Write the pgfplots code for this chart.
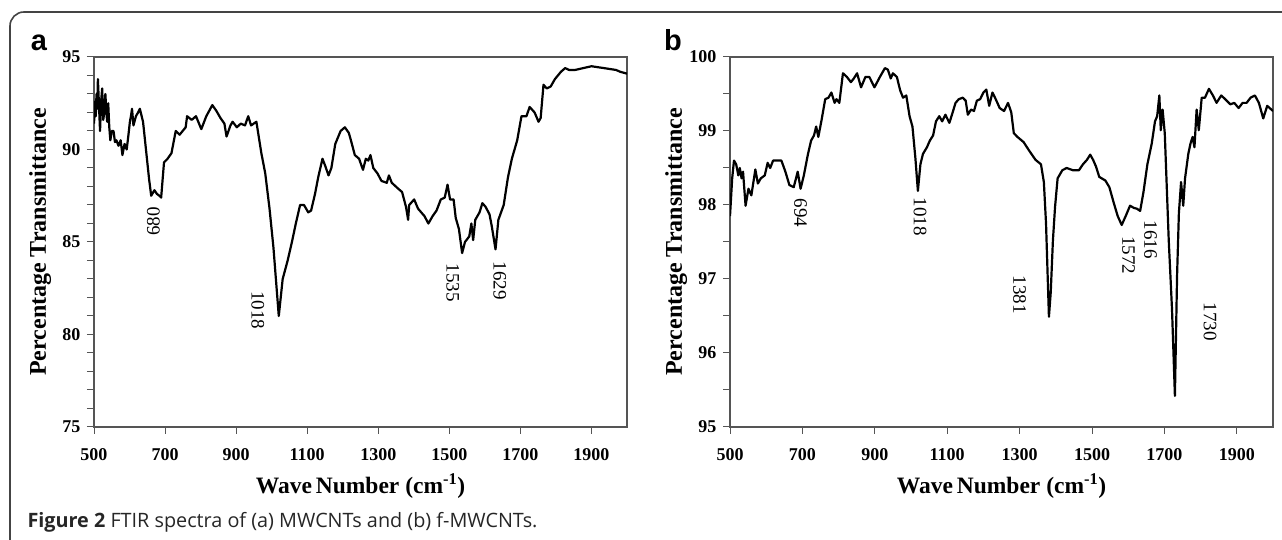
\documentclass[border=0pt]{standalone}
\usepackage{pgfplots}
\pgfplotsset{compat=1.18}
\usepackage{fontspec}
\setmainfont{Liberation Serif}
\newfontfamily\capfont{Open Sans}
\newfontfamily\panelfont{Liberation Sans}
\definecolor{axisgray}{HTML}{555555}
\definecolor{framegray}{HTML}{444444}

\pgfplotstableread{
x y
500 91.4
503 92.6
505 91.8
507 93.0
509 92.2
511 93.8
514 92.4
517 91.0
520 92.6
523 93.3
526 91.6
529 92.0
532 93.0
535 92.0
537 91.5
540 92.5
543 91.2
546 90.5
550 91.0
555 91.0
559 90.4
563 90.5
569 90.2
575 90.5
580 89.7
586 90.3
592 90.0
597 90.8
601 91.5
604 91.8
607 92.2
611 91.3
618 91.8
624 92.0
629 92.2
638 91.5
649 89.5
655 88.4
661 87.5
670 87.8
677 87.6
684 87.5
689 87.4
697 89.3
707 89.5
718 89.8
730 91.0
741 90.8
758 91.2
762 91.8
775 91.6
787 91.8
802 91.1
816 91.8
833 92.4
844 92.1
856 91.7
867 91.4
873 90.7
884 91.3
890 91.5
902 91.2
913 91.4
925 91.3
934 91.8
942 91.3
957 91.5
971 89.8
982 88.7
994 86.8
1005 84.7
1020 81.0
1031 83.0
1045 84.0
1057 85.0
1068 86.0
1080 87.0
1091 87.0
1103 86.6
1111 86.7
1122 87.6
1131 88.5
1143 89.5
1151 89.1
1160 88.6
1168 89.0
1179 90.3
1194 91.0
1206 91.2
1217 90.9
1223 90.5
1234 89.7
1246 89.5
1257 88.9
1265 89.5
1272 89.4
1278 89.7
1286 89.0
1298 88.7
1309 88.3
1324 88.2
1330 88.6
1338 88.2
1355 87.9
1367 87.7
1378 86.9
1384 86.2
1387 87.0
1401 87.3
1412 86.8
1430 86.4
1441 86.0
1453 86.4
1464 86.7
1476 87.3
1487 87.4
1495 88.1
1502 87.3
1512 87.3
1518 86.3
1527 85.7
1536 84.4
1544 85.0
1556 85.3
1562 86.0
1567 85.1
1573 86.2
1585 86.6
1593 87.1
1602 86.9
1613 86.5
1619 85.9
1630 84.6
1638 86.2
1653 87.0
1665 88.5
1676 89.5
1691 90.5
1703 91.8
1717 91.8
1726 92.3
1740 92.0
1751 91.5
1757 91.7
1765 93.5
1774 93.3
1785 93.4
1797 93.8
1814 94.2
1826 94.4
1837 94.3
1854 94.3
1877 94.4
1900 94.5
1935 94.4
1969 94.3
1981 94.2
2000 94.1
}\specA

\pgfplotstableread{
x y
500 97.85
506 98.36
511 98.60
517 98.55
523 98.40
527 98.50
532 98.36
536 98.45
543 97.99
551 98.22
559 98.13
570 98.48
577 98.29
585 98.36
596 98.40
604 98.57
611 98.50
619 98.60
630 98.60
642 98.60
653 98.45
664 98.27
676 98.24
687 98.45
695 98.22
704 98.40
715 98.68
724 98.87
732 98.94
738 99.06
744 98.92
753 99.15
763 99.43
772 99.45
780 99.52
789 99.38
794 99.43
802 99.38
812 99.78
823 99.73
834 99.66
842 99.71
851 99.78
862 99.59
874 99.73
885 99.73
899 99.59
914 99.73
928 99.85
936 99.83
944 99.71
950 99.78
961 99.73
970 99.55
978 99.45
987 99.48
996 99.20
1004 99.06
1012 98.64
1019 98.19
1026 98.55
1033 98.69
1044 98.78
1052 98.87
1061 98.94
1069 99.13
1078 99.20
1086 99.13
1095 99.22
1106 99.11
1115 99.25
1123 99.38
1132 99.43
1143 99.45
1151 99.41
1157 99.22
1166 99.29
1174 99.27
1182 99.41
1191 99.43
1200 99.52
1208 99.56
1216 99.34
1225 99.52
1234 99.43
1245 99.31
1257 99.27
1268 99.38
1277 99.25
1284 98.97
1294 98.92
1311 98.85
1327 98.73
1344 98.61
1359 98.55
1367 98.31
1373 97.75
1381 96.49
1386 96.82
1392 97.52
1398 97.98
1405 98.36
1418 98.47
1430 98.50
1447 98.47
1464 98.47
1475 98.55
1486 98.61
1495 98.68
1503 98.61
1511 98.52
1520 98.38
1537 98.33
1548 98.24
1560 98.03
1571 97.85
1582 97.73
1593 97.85
1605 97.99
1616 97.96
1624 97.95
1633 97.92
1642 98.17
1653 98.55
1665 98.83
1674 99.13
1680 99.20
1686 99.48
1690 99.01
1695 99.29
1701 98.97
1712 97.52
1721 96.59
1729 95.42
1735 97.05
1740 97.89
1746 98.31
1752 97.99
1757 98.36
1766 98.69
1772 98.83
1778 98.92
1783 98.78
1789 99.29
1795 99.01
1803 99.45
1812 99.45
1823 99.57
1834 99.48
1844 99.38
1857 99.48
1868 99.43
1882 99.36
1893 99.38
1905 99.31
1916 99.38
1927 99.38
1938 99.45
1950 99.48
1961 99.38
1973 99.17
1984 99.34
2000 99.27
}\specB

\tikzset{peak/.style={font=\fontsize{19}{19}\selectfont, rotate=-90, anchor=center}}

\pgfplotsset{
  ftir/.style={
    scale only axis,
    anchor=south west,
    height=370pt,
    xmin=500, xmax=2000,
    xtick={500,700,...,1900},
    tick align=outside,
    major tick length=7pt,
    minor tick length=7pt,
    xtick pos=bottom, ytick pos=left,
    axis line style={axisgray, line width=1.2pt},
    every tick/.style={axisgray, line width=1pt},
    tick label style={font=\fontsize{18}{18}\selectfont\bfseries},
    /pgf/number format/assume math mode=true,
    /pgf/number format/1000 sep={},
    xticklabel style={yshift=-11pt},
    yticklabel style={xshift=-3pt},
    every axis x label/.style={at={(axis description cs:0.5,0)}, anchor=center, yshift=-59pt,
      font=\fontsize{23.5}{23.5}\selectfont\bfseries},
    xlabel={Wave\,Number (cm\textsuperscript{-1})},
    ylabel={Percentage Transmittance},
  }
}

\begin{document}
\begin{tikzpicture}
\useasboundingbox (0pt,0pt) rectangle (1282pt,540pt);
\draw[framegray, line width=1.6pt, rounded corners=14pt] (10pt,-5pt) -- (10pt,528pt) -- (1300pt,528pt);

\node[font=\panelfont\bfseries\fontsize{29}{29}\selectfont, anchor=base] at (39pt,489pt) {a};
\node[font=\panelfont\bfseries\fontsize{29}{29}\selectfont, anchor=base] at (673pt,489pt) {b};

\node[font=\capfont\fontsize{19.8}{19.8}\selectfont, anchor=base west, text=black!85] at (24pt,12pt)
  {\textbf{Figure 2} FTIR spectra of (a) MWCNTs and (b) f-MWCNTs.};

\begin{axis}[ftir, at={(94pt,113pt)}, width=533pt,
  ymin=75, ymax=95, ytick={75,80,...,95}, minor y tick num=4,
  every axis y label/.style={at={(axis description cs:-0.101,0.5)}, anchor=center, rotate=90,
      font=\fontsize{24}{24}\selectfont\bfseries}]
\addplot[black, line width=2.2pt, line join=round] table[x=x,y=y]{\specA};
\node[peak, rotate=180] at (axis cs:667,86.1) {680};
\node[peak] at (axis cs:961,81.3) {1018};
\node[peak] at (axis cs:1510,82.8) {1535};
\node[peak] at (axis cs:1642,82.9) {1629};
\end{axis}

\begin{axis}[ftir, at={(730pt,113pt)}, width=543pt,
  ymin=95, ymax=100, ytick={95,96,...,100}, minor y tick num=1,
  every axis y label/.style={at={(axis description cs:-0.099,0.5)}, anchor=center, rotate=90,
      font=\fontsize{24}{24}\selectfont\bfseries}]
\addplot[black, line width=2.2pt, line join=round] table[x=x,y=y]{\specB};
\node[peak] at (axis cs:695,97.89) {694};
\node[peak] at (axis cs:1025,97.84) {1018};
\node[peak] at (axis cs:1300,96.79) {1381};
\node[peak] at (axis cs:1601,97.32) {1572};
\node[peak] at (axis cs:1662,97.53) {1616};
\node[peak] at (axis cs:1826,96.42) {1730};
\end{axis}
\end{tikzpicture}
\end{document}
